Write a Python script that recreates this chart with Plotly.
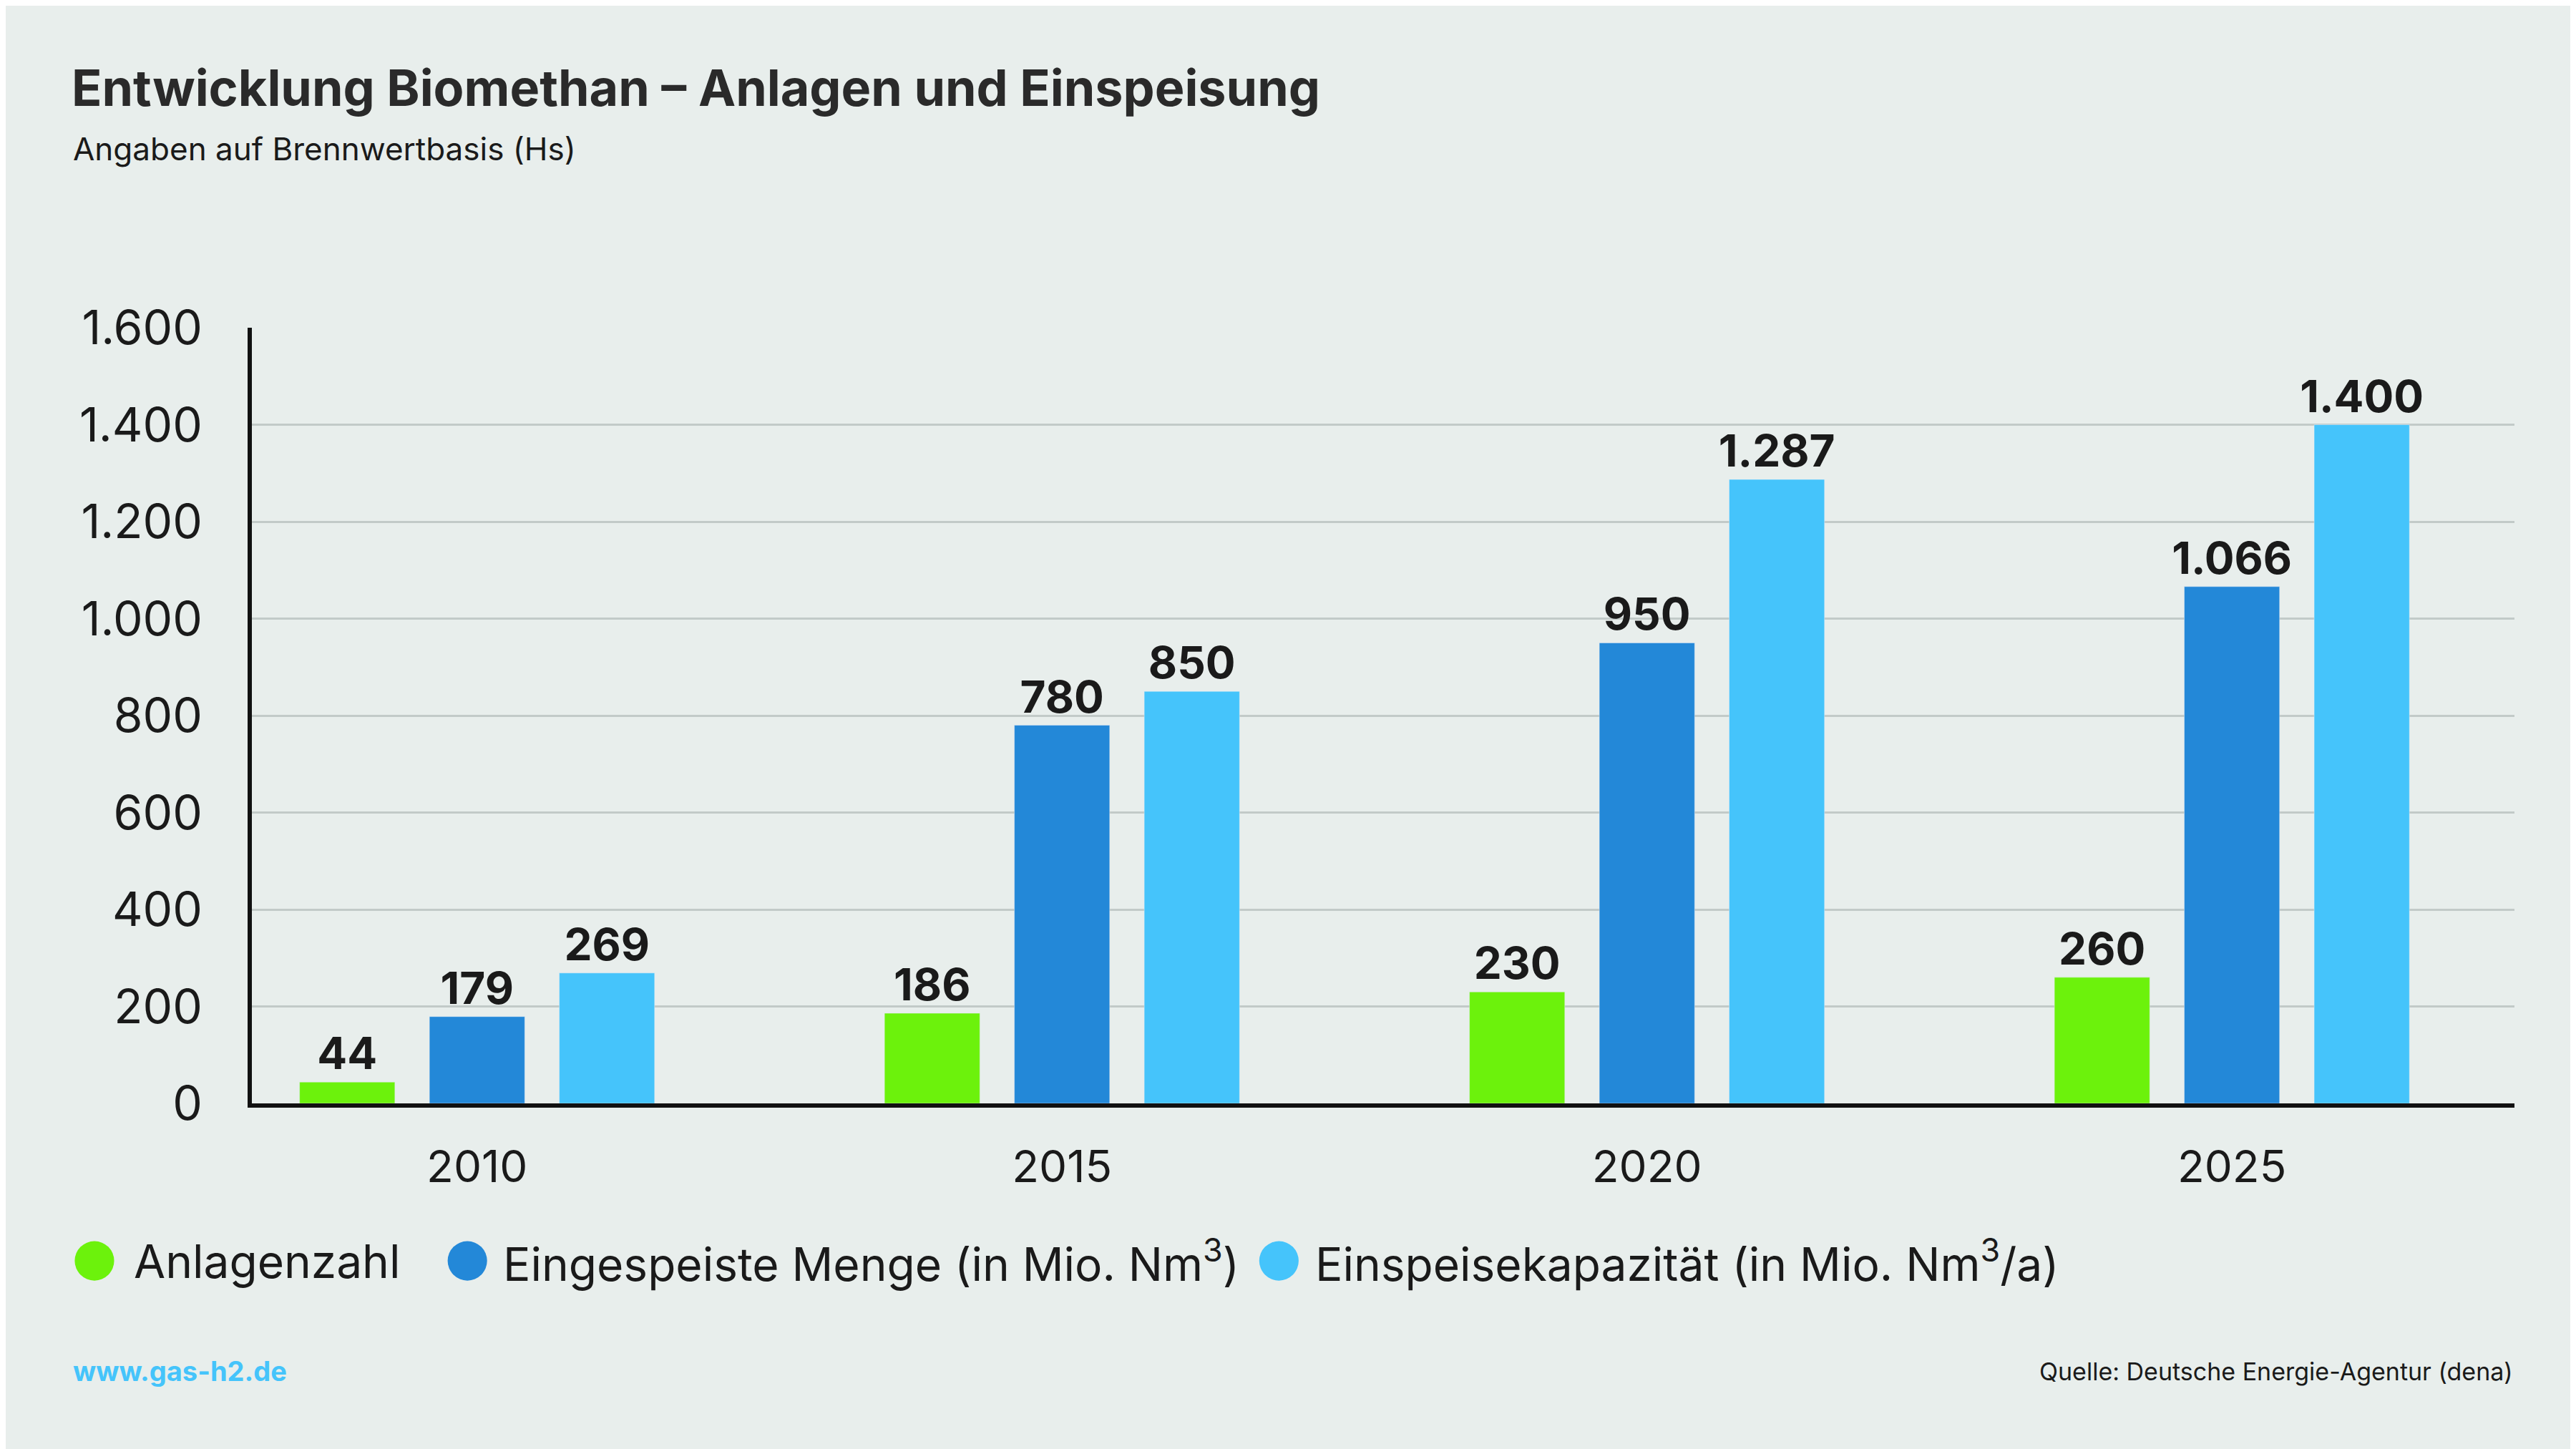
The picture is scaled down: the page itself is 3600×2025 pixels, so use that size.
import plotly.graph_objects as go

years = ["2010", "2015", "2020", "2025"]
anlagen = [44, 186, 230, 260]
menge = [179, 780, 950, 1066]
kapazitaet = [269, 850, 1287, 1400]
names = ["Anlagenzahl", "Eingespeiste Menge (in Mio. Nm<sup>3</sup>)", "Einspeisekapazität (in Mio. Nm<sup>3</sup>/a)"]
colors = ["#6CF20C", "#2388D8", "#45C4FB"]
yticks = [0, 200, 400, 600, 800, 1000, 1200, 1400, 1600]

W, H = 3600, 2025
L, R, T, B = 344, 94, 450, 491
S = W / 1568
FONT = "Inter, Liberation Sans, sans-serif"

def px(x):
    return (x - L) / (W - L - R)
def py(y):
    return 1 - (y - T) / (H - T - B)

fig = go.Figure()
for vals, c in zip([anlagen, menge, kapazitaet], colors):
    fig.add_trace(go.Bar(x=years, y=vals, marker_color=c, showlegend=False,
                         texttemplate="%{y:,}", textposition="outside", constraintext="none",
                         textfont=dict(size=62, color="#1a1a1a", family=FONT, weight="bold"),
                         cliponaxis=False))

shapes = []
annotations = [
    dict(text="Angaben auf Brennwertbasis (Hs)", xref="paper", yref="paper", x=px(92), y=py(200),
         xanchor="left", yanchor="middle", showarrow=False, font=dict(size=44)),
    dict(text="<b>www.gas-h2.de</b>", xref="paper", yref="paper", x=px(92), y=py(1908),
         xanchor="left", yanchor="middle", showarrow=False, font=dict(size=38, color="#45C4FB")),
    dict(text="Quelle: Deutsche Energie-Agentur (dena)", xref="paper", yref="paper", x=1, y=py(1908),
         xanchor="right", yanchor="middle", showarrow=False, font=dict(size=34)),
]
leg_cx = [54, 281, 775]
leg_tx = [77, 302, 796]
cy = 764 * S
r = 12 * S
for n, c, cx, tx in zip(names, colors, leg_cx, leg_tx):
    shapes.append(dict(type="circle", xref="paper", yref="paper", line_width=0, fillcolor=c,
                       x0=px(cx * S - r), x1=px(cx * S + r), y0=py(cy + r), y1=py(cy - r)))
    annotations.append(dict(text=n, xref="paper", yref="paper", x=px(tx * S), y=py(cy),
                            xanchor="left", yanchor="middle", showarrow=False, font=dict(size=64)))

fig.update_layout(
    width=W, height=H, paper_bgcolor="#E8EEEC", plot_bgcolor="#E8EEEC",
    margin=dict(l=L, r=R, t=T, b=B), separators=",.",
    bargap=0.334, bargroupgap=0.266, barmode="group", showlegend=False,
    font=dict(family=FONT, color="#1a1a1a"),
    title=dict(text="<b>Entwicklung Biomethan – Anlagen und Einspeisung</b>", x=92/W, xanchor="left",
               y=1-115/H, yanchor="middle", font=dict(size=70, color="#2a2a2a")),
    xaxis=dict(range=[-0.385, 3.483], showline=True, linecolor="#111", linewidth=6, ticks="outside",
               ticklen=30, tickcolor="rgba(0,0,0,0)", tickfont=dict(size=62)),
    yaxis=dict(range=[0, 1600], tickvals=yticks, tickformat=",", showline=True, linecolor="#111",
               linewidth=6, gridcolor="#C2CAC8", gridwidth=3, tickfont=dict(size=66),
               ticklabelstandoff=50, zeroline=False),
    shapes=shapes, annotations=annotations,
)
fig.write_html("out.html")
